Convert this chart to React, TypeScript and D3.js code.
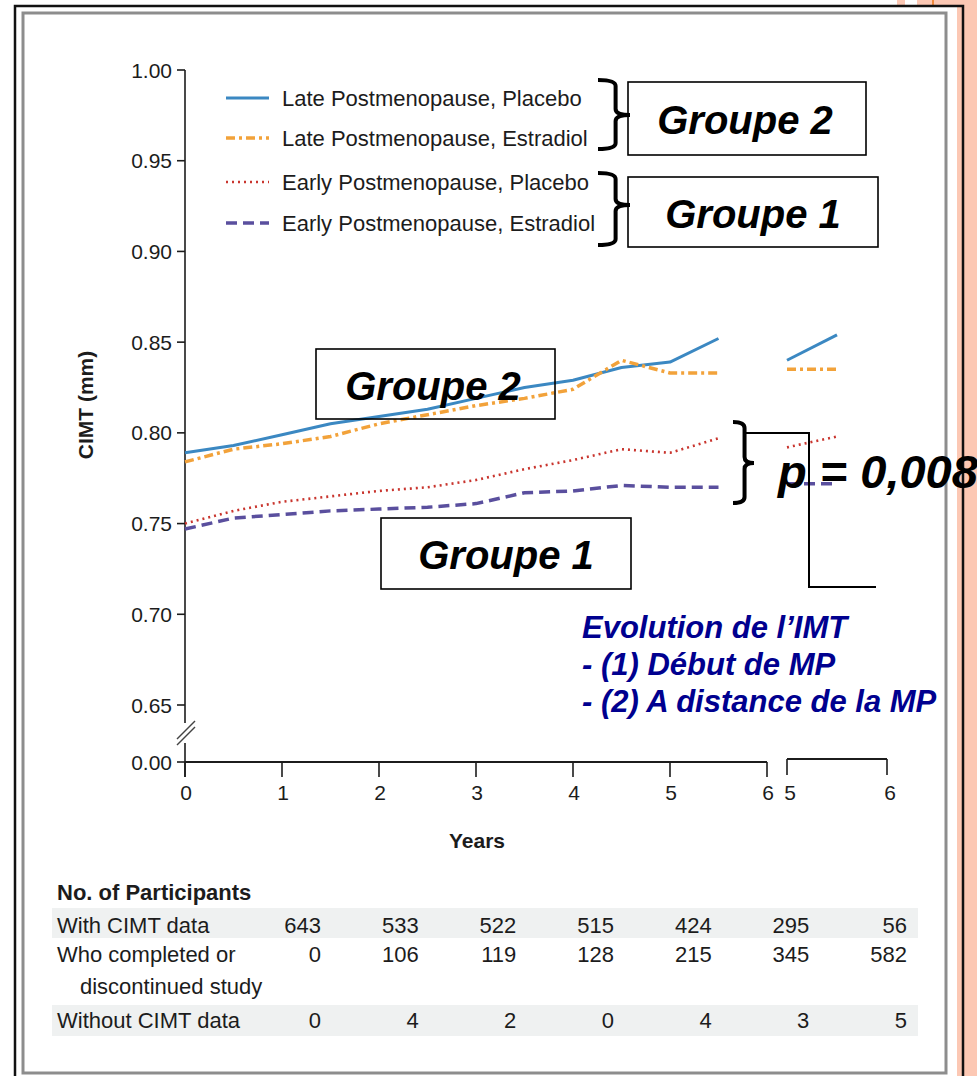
import React from "react";
import * as d3 from "d3";

// Follow-up visits (years) and mean CIMT per group
const years = [0, 0.5, 1, 1.5, 2, 2.5, 3, 3.5, 4, 4.5, 5, 5.5];
const latePlacebo = [0.789, 0.793, 0.799, 0.805, 0.809, 0.813, 0.819, 0.825, 0.829, 0.836, 0.839, 0.852];
const lateEstradiol = [0.784, 0.791, 0.794, 0.798, 0.805, 0.81, 0.815, 0.819, 0.824, 0.84, 0.833, 0.833];
const earlyPlacebo = [0.75, 0.757, 0.762, 0.765, 0.768, 0.77, 0.774, 0.78, 0.785, 0.791, 0.789, 0.797];
const earlyEstradiol = [0.747, 0.753, 0.755, 0.757, 0.758, 0.759, 0.761, 0.767, 0.768, 0.771, 0.77, 0.77];

// Last-visit panel (right-hand inset axis)
const years2 = [5, 5.5];
const latePlacebo2 = [0.84, 0.854];
const lateEstradiol2 = [0.835, 0.835];
const earlyPlacebo2 = [0.792, 0.798];
const earlyEstradiol2 = [0.772, 0.772];

const seriesNames = [
  "Late Postmenopause, Placebo",
  "Late Postmenopause, Estradiol",
  "Early Postmenopause, Placebo",
  "Early Postmenopause, Estradiol",
];

const yTicks = [1.0, 0.95, 0.9, 0.85, 0.8, 0.75, 0.7, 0.65, 0.0];
const xTicks = [0, 1, 2, 3, 4, 5, 6];
const xTicks2 = [5, 6];

// Numbers-at-risk table
const tableColumns = [0, 1, 2, 3, 4, 5, 6];
const withCimt = [643, 533, 522, 515, 424, 295, 56];
const completedOrDiscontinued = [0, 106, 119, 128, 215, 345, 582];
const withoutCimt = [0, 4, 2, 0, 4, 3, 5];

const evolutionLines = ["Evolution de l\u2019IMT", "- (1) D\u00e9but de MP", "- (2) A distance de la MP"];

const sans = "'Liberation Sans', Arial, Helvetica, sans-serif";
const ink = "#1c1c1c";

function brace(x: number, y1: number, y2: number, ym: number, w: number) {
  const sx = x + w * 0.55;
  const tip = x + w;
  const r = 6;
  return `M${x},${y1} Q${sx},${y1} ${sx},${y1 + r} L${sx},${ym - r} Q${sx},${ym} ${tip},${ym} Q${sx},${ym} ${sx},${ym + r} L${sx},${y2 - r} Q${sx},${y2} ${x},${y2}`;
}

export default function App() {
  const y = d3.scaleLinear().domain([0, 0.65, 1.0]).range([762, 705, 70]);
  const x = d3.scaleLinear().domain([0, 6]).range([185, 767]);
  const x2 = d3.scaleLinear().domain([5, 6]).range([787, 887]);
  const col = d3.scaleLinear().domain([0, 6]).range([321, 907]);

  const line = d3
    .line<number>()
    .x((_, i) => x(years[i]))
    .y((d) => y(d));
  const line2 = d3
    .line<number>()
    .x((_, i) => x2(years2[i]))
    .y((d) => y(d));

  const series = [
    { name: seriesNames[0], v: latePlacebo, v2: latePlacebo2, color: "#3b88c2", dash: "none", w: 3 },
    { name: seriesNames[1], v: lateEstradiol, v2: lateEstradiol2, color: "#f2a23a", dash: "9,4,3,4", w: 3.5 },
    { name: seriesNames[2], v: earlyPlacebo, v2: earlyPlacebo2, color: "#c9352e", dash: "2,4", w: 2.6 },
    { name: seriesNames[3], v: earlyEstradiol, v2: earlyEstradiol2, color: "#5a4f9e", dash: "11,6", w: 3.5 },
  ];
  const legendRows = [98, 138, 182, 223];

  const tableRows = [
    { label: ["With CIMT data"], values: withCimt, base: 933, band: [908, 938] },
    { label: ["Who completed or", "discontinued study"], values: completedOrDiscontinued, base: 962, band: null },
    { label: ["Without CIMT data"], values: withoutCimt, base: 1028, band: [1005, 1036] },
  ];

  return (
    <svg
      width={977}
      height={1076}
      style={{ position: "absolute", left: 0, top: 0, display: "block" }}
      fontFamily={sans}
    >
      <rect width={977} height={1076} fill="#ffffff" />
      {/* slide edge */}
      <rect x={957} y={0} width={20} height={1076} fill="#fcc8b4" />
      <rect x={897} y={0} width={80} height={6} fill="#fcc8b4" />
      <rect x={905} y={0} width={12} height={6} fill="#ffffff" />
      <line x1={933} y1={0} x2={933} y2={6} stroke="#f08a3c" strokeWidth={2} />
      <path d="M15,1076 V6 H963 V1076" fill="none" stroke="#111" strokeWidth={2.5} />
      <rect x={23} y={13} width={923} height={1060} fill="none" stroke="#8d8d8d" strokeWidth={3} />

      {/* y axis with break */}
      <line x1={185} y1={y(1.0)} x2={185} y2={723} stroke={ink} strokeWidth={1.6} />
      <line x1={185} y1={743} x2={185} y2={777} stroke={ink} strokeWidth={1.6} />
      <line x1={177} y1={739} x2={195} y2={721} stroke="#444" strokeWidth={1.5} />
      <line x1={177} y1={745} x2={195} y2={727} stroke="#444" strokeWidth={1.5} />
      {yTicks.map((t) => (
        <g key={t}>
          <line x1={177} x2={185} y1={y(t)} y2={y(t)} stroke={ink} strokeWidth={1.6} />
          <text x={172} y={y(t) + 7.5} fontSize={21} textAnchor="end" fill={ink}>
            {t.toFixed(2)}
          </text>
        </g>
      ))}
      <text
        transform="translate(93,405) rotate(-90)"
        fontSize={21}
        fontWeight="bold"
        textAnchor="middle"
        fill={ink}
      >
        CIMT (mm)
      </text>

      {/* x axes */}
      <line x1={x(0)} x2={x(6)} y1={762} y2={762} stroke={ink} strokeWidth={1.8} />
      {xTicks.map((t) => (
        <g key={t}>
          <line x1={x(t)} x2={x(t)} y1={762} y2={777} stroke={ink} strokeWidth={1.6} />
          <text x={x(t) + 1} y={800} fontSize={21} textAnchor="middle" fill={ink}>
            {t}
          </text>
        </g>
      ))}
      <line x1={x2(5)} x2={x2(6)} y1={759} y2={759} stroke={ink} strokeWidth={1.8} />
      {xTicks2.map((t) => (
        <g key={t}>
          <line x1={x2(t)} x2={x2(t)} y1={759} y2={775} stroke={ink} strokeWidth={1.6} />
          <text x={x2(t) + 3} y={800} fontSize={21} textAnchor="middle" fill={ink}>
            {t}
          </text>
        </g>
      ))}
      <text x={477} y={848} fontSize={21} fontWeight="bold" textAnchor="middle" fill={ink}>
        Years
      </text>

      {/* series */}
      {series.map((s) => (
        <g key={s.name}>
          <path d={line(s.v) ?? ""} fill="none" stroke={s.color} strokeWidth={s.w} strokeDasharray={s.dash} strokeLinejoin="round" />
          <path d={line2(s.v2) ?? ""} fill="none" stroke={s.color} strokeWidth={s.w} strokeDasharray={s.dash} strokeLinejoin="round" />
        </g>
      ))}

      {/* legend */}
      {series.map((s, i) => (
        <g key={s.name}>
          <line x1={226} x2={269} y1={legendRows[i]} y2={legendRows[i]} stroke={s.color} strokeWidth={s.w} strokeDasharray={s.dash} />
          <text x={282} y={legendRows[i] + 7.5} fontSize={22} fill={ink}>
            {s.name}
          </text>
        </g>
      ))}

      {/* numbers of participants */}
      <text x={57} y={900} fontSize={22} fontWeight="bold" fill={ink}>
        No. of Participants
      </text>
      {tableRows.map((r) => (
        <g key={r.label[0]}>
          {r.band && <rect x={52} y={r.band[0]} width={866} height={r.band[1] - r.band[0]} fill="#eff1f1" />}
          {r.label.map((l, j) => (
            <text key={l} x={j === 0 ? 57 : 80} y={r.base + j * 32} fontSize={22} fill={ink}>
              {l}
            </text>
          ))}
          {r.values.map((v, i) => (
            <text key={i} x={col(tableColumns[i])} y={r.base} fontSize={22} textAnchor="end" fill={ink}>
              {v}
            </text>
          ))}
        </g>
      ))}

      {/* group annotations */}
      <g fontStyle="italic" fontWeight="bold" fill="#000">
        <path d={brace(598, 80, 149, 115, 32)} fill="none" stroke="#000" strokeWidth={4} />
        <rect x={628} y={82} width={238} height={73} fill="none" stroke="#000" strokeWidth={1.6} />
        <text x={745} y={134} fontSize={40} textAnchor="middle">Groupe 2</text>

        <path d={brace(598, 173, 245, 205, 32)} fill="none" stroke="#000" strokeWidth={4} />
        <rect x={628} y={177} width={250} height={70} fill="none" stroke="#000" strokeWidth={1.6} />
        <text x={753} y={228} fontSize={40} textAnchor="middle">Groupe 1</text>

        <rect x={316} y={349} width={239} height={70} fill="none" stroke="#000" strokeWidth={1.6} />
        <text x={433} y={400} fontSize={40} textAnchor="middle">Groupe 2</text>

        <rect x={381} y={518} width={250} height={71} fill="none" stroke="#000" strokeWidth={1.6} />
        <text x={506} y={569} fontSize={40} textAnchor="middle">Groupe 1</text>

        <path d={brace(733, 422, 503, 463, 21)} fill="none" stroke="#000" strokeWidth={4} />
        <path d="M743,433 H809 V587 H876" fill="none" stroke="#000" strokeWidth={2} />
        <text x={778} y={488} fontSize={47}>p = 0,008</text>

        {evolutionLines.map((l, i) => (
          <text key={l} x={582} y={638 + i * 37} fontSize={31} fill="#00008f">
            {l}
          </text>
        ))}
      </g>
    </svg>
  );
}
